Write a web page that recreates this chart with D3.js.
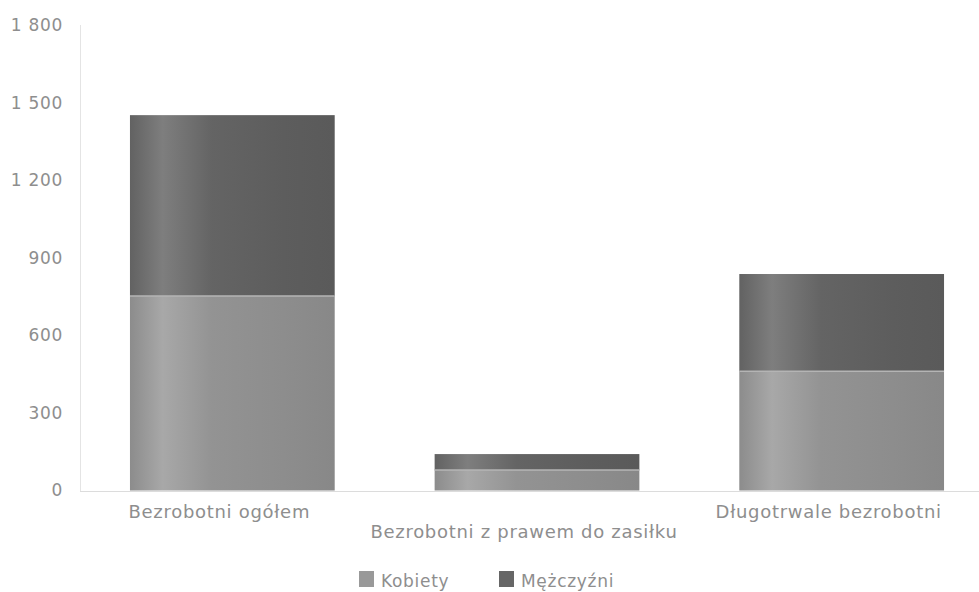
<!DOCTYPE html>
<html><head><meta charset="utf-8">
<script src="https://cdn.jsdelivr.net/npm/d3@7"></script>
<style>body{margin:0;background:#fff}svg{display:block}text{font-family:"DejaVu Sans",sans-serif;fill:#8e8e8e;letter-spacing:0.7px}</style>
</head><body><svg id="c" width="979" height="592"></svg>
<script>
const categories = ["Bezrobotni ogółem", "Bezrobotni z prawem do zasiłku", "Długotrwale bezrobotni"];
const seriesNames = ["Kobiety", "Mężczyźni"];
const kobiety = [753, 79, 462];
const mezczyzni = [700, 62, 376];
const yTicks = [0, 300, 600, 900, 1200, 1500, 1800];

const svg = d3.select("#c");
const x = d3.scaleBand().domain(categories).range([80, 994]).paddingInner(0.328).paddingOuter(0.164);
const y = d3.scaleLinear().domain([0, 1800]).range([490.5, 25.5]);

const defs = svg.append("defs");
function grad(id, stops) {
  const g = defs.append("linearGradient").attr("id", id).attr("x1", "0").attr("x2", "1").attr("y1", "0").attr("y2", "0");
  stops.forEach(s => g.append("stop").attr("offset", s[0]).attr("stop-color", s[1]));
}
grad("gK", [[0, "#8c8c8c"], [0.16, "#a8a8a8"], [0.4, "#939393"], [0.75, "#8d8d8d"], [1, "#888888"]]);
grad("gM", [[0, "#626262"], [0.16, "#7e7e7e"], [0.4, "#646464"], [0.75, "#5d5d5d"], [1, "#5a5a5a"]]);
const fills = ["url(#gK)", "url(#gM)"];
const legendFills = ["#999999", "#666666"];

svg.append("line").attr("x1", 80.5).attr("x2", 80.5).attr("y1", 25).attr("y2", 491).attr("stroke", "#e4e4e4");
svg.append("line").attr("x1", 80).attr("x2", 979).attr("y1", 491.5).attr("y2", 491.5).attr("stroke", "#dcdcdc");

const fmt = v => d3.format(",")(v).replace(/,/g, " ");
svg.selectAll(".yt").data(yTicks).join("text").attr("class", "yt")
  .attr("x", 63).attr("y", d => y(d)).attr("dy", "0.35em").attr("text-anchor", "end")
  .attr("font-size", 17).text(fmt);

const data = categories.map((c, i) => ({c, Kobiety: kobiety[i], "Mężczyźni": mezczyzni[i]}));
const stacked = d3.stack().keys(seriesNames)(data);
stacked.forEach((s, si) => {
  svg.append("g").selectAll("rect").data(s).join("rect")
    .attr("x", d => x(d.data.c)).attr("width", x.bandwidth())
    .attr("y", d => y(d[1])).attr("height", d => y(d[0]) - y(d[1]))
    .attr("fill", fills[si]);
});
svg.append("g").selectAll("line").data(stacked[0]).join("line")
  .attr("x1", d => x(d.data.c)).attr("x2", d => x(d.data.c) + x.bandwidth())
  .attr("y1", d => y(d[1])).attr("y2", d => y(d[1])).attr("stroke", "#b4b4b4").attr("stroke-width", 1.5);

svg.selectAll(".xl").data(categories).join("text").attr("class", "xl")
  .attr("x", d => x(d) + x.bandwidth() / 2 - 13)
  .attr("y", (d, i) => i % 2 ? 538 : 518)
  .attr("text-anchor", "middle").attr("font-size", 18).text(d => d);

const lx = [359, 499];
seriesNames.forEach((n, i) => {
  svg.append("rect").attr("x", lx[i]).attr("y", 571).attr("width", 15).attr("height", 16).attr("fill", legendFills[i]);
  svg.append("text").attr("x", lx[i] + 22).attr("y", 587).attr("font-size", 17).text(n);
});
</script></body></html>
